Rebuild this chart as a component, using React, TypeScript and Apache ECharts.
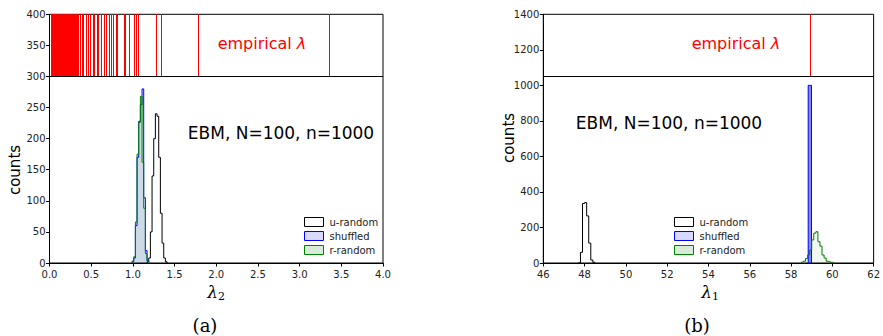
import React, { useEffect, useRef } from "react";
import * as echarts from "echarts";

// ---------- Panel (a): lambda_2 ----------
const aBinWidth = 0.02;
const aURandomEdges = [1.17, 1.19, 1.21, 1.23, 1.25, 1.27, 1.29, 1.31, 1.33, 1.35, 1.37, 1.39];
const aURandomCounts = [2, 8, 50, 140, 200, 240, 236, 170, 80, 32, 8, 2];
const aShuffledEdges = [0.99, 1.01, 1.03, 1.05, 1.07, 1.09, 1.11, 1.13, 1.15, 1.17];
const aShuffledCounts = [2, 8, 60, 170, 228, 255, 280, 105, 20, 4];
const aRRandomEdges = [0.99, 1.01, 1.03, 1.05, 1.07, 1.09, 1.11, 1.13, 1.15, 1.17];
const aRRandomCounts = [3, 10, 66, 175, 226, 268, 162, 88, 15, 3];
const aEmpirical = [
  0.02, 0.028, 0.036, 0.045, 0.052, 0.061, 0.069, 0.077, 0.086, 0.094, 0.103, 0.111,
  0.12, 0.128, 0.137, 0.145, 0.154, 0.162, 0.171, 0.179, 0.188, 0.196, 0.205, 0.213,
  0.222, 0.23, 0.239, 0.247, 0.256, 0.264, 0.273, 0.281, 0.29, 0.298, 0.307, 0.315,
  0.324, 0.333, 0.35, 0.369, 0.393, 0.41, 0.441, 0.462, 0.489, 0.522, 0.542, 0.57,
  0.59, 0.622, 0.662, 0.681, 0.714, 0.741, 0.77, 0.796, 0.814, 0.894, 0.906, 0.957,
  1.013, 1.046, 1.065, 1.286, 1.346, 1.789, 3.351,
];
const aDivider = 300;
const aXTicks = { min: 0, max: 4, interval: 0.5 };
const aYTicks = { min: 0, max: 400, interval: 50 };

// ---------- Panel (b): lambda_1 ----------
const bURandomWidth = 0.1;
const bURandomEdges = [47.7, 47.8, 47.9, 48.0, 48.1, 48.2, 48.3, 48.4];
const bURandomCounts = [3, 60, 335, 340, 265, 112, 17, 4];
const bShuffledWidth = 0.16;
const bShuffledEdges = [58.83];
const bShuffledCounts = [1000];
const bRRandomWidth = 0.1;
const bRRandomEdges = [58.5, 58.6, 58.7, 58.8, 58.9, 59.0, 59.1, 59.2, 59.3, 59.4, 59.5, 59.6, 59.7, 59.8, 59.9, 60.0];
const bRRandomCounts = [5, 10, 25, 45, 73, 130, 168, 176, 120, 95, 45, 28, 10, 8, 4, 2];
const bEmpirical = [58.91];
const bDivider = 1050;
const bXTicks = { min: 46, max: 62, interval: 2 };
const bYTicks = { min: 0, max: 1400, interval: 200 };

const seriesNames = ["u-random", "shuffled", "r-random"];

function stepPoints(edges: number[], counts: number[], width: number) {
  const pts: number[][] = [[edges[0], 0]];
  edges.forEach((e, i) => {
    pts.push([e, counts[i]]);
    pts.push([e + width, counts[i]]);
  });
  pts.push([edges[edges.length - 1] + width, 0]);
  return pts;
}

const FONT = "DejaVu Sans";

function axisCommon(fmt: (v: number) => string, margin: number) {
  return {
    type: "value" as const,
    axisLine: { show: true, onZero: false, lineStyle: { color: "#000", width: 1 } },
    axisTick: { show: true, length: 3.5, lineStyle: { color: "#000" } },
    axisLabel: {
      fontSize: 10,
      color: "#222",
      fontFamily: FONT,
      margin,
      formatter: fmt,
    },
    splitLine: { show: false },
  };
}

const intFmt = (v: number) => String(v);
const oneDecFmt = (v: number) => v.toFixed(1);

function histSeries(name: string, grid: number, data: number[][], color: string, fill: string | null) {
  return {
    name,
    type: "line",
    xAxisIndex: grid,
    yAxisIndex: grid,
    data,
    showSymbol: false,
    symbol: "none",
    lineStyle: { color, width: 1 },
    itemStyle: { color },
    ...(fill ? { areaStyle: { color: fill, opacity: 1 } } : {}),
    silent: true,
  };
}

function empiricalSeries(grid: number, values: number[], y0: number, y1: number) {
  return {
    name: "empirical" + grid,
    type: "line",
    xAxisIndex: grid,
    yAxisIndex: grid,
    data: [],
    markLine: {
      silent: true,
      symbol: ["none", "none"],
      label: { show: false },
      lineStyle: { color: "#ff0000", width: 1, type: "solid" },
      data: values.map((v) => [{ coord: [v, y0] }, { coord: [v, y1] }]),
    },
  };
}

function dividerSeries(grid: number, y: number) {
  return {
    name: "divider" + grid,
    type: "line",
    xAxisIndex: grid,
    yAxisIndex: grid,
    data: [],
    markLine: {
      silent: true,
      symbol: ["none", "none"],
      label: { show: false },
      lineStyle: { color: "#000", width: 1.2, type: "solid" },
      data: [{ yAxis: y }],
    },
  };
}

const legendItems = [
  { name: "u-random", icon: "rect", itemStyle: { color: "#fff", borderColor: "#000", borderWidth: 1 } },
  { name: "shuffled", icon: "rect", itemStyle: { color: "rgba(0,0,255,0.15)", borderColor: "#0000ff", borderWidth: 1 } },
  { name: "r-random", icon: "rect", itemStyle: { color: "rgba(0,128,0,0.15)", borderColor: "#008000", borderWidth: 1 } },
];

function legendAt(left: number, top: number) {
  return {
    orient: "vertical",
    left,
    top,
    itemWidth: 19,
    itemHeight: 9,
    itemGap: 4,
    padding: 0,
    selectedMode: false,
    data: legendItems.map((d) => ({ ...d })),
    textStyle: { fontSize: 10, color: "#222", fontFamily: FONT, lineHeight: 10, padding: [0, 0, 0, 1] },
  };
}

function lambdaLabel(x: number, sub: string) {
  return {
    type: "text",
    x,
    y: 292,
    style: {
      text: "{l|λ}{s|" + sub + "}",
      align: "center",
      verticalAlign: "middle",
      textAlign: "center",
      textVerticalAlign: "middle",
      rich: {
        l: { fontFamily: "DejaVu Serif", fontStyle: "italic", fontSize: 17, fill: "#000" },
        s: { fontFamily: "DejaVu Serif", fontSize: 11, fill: "#000", padding: [9, 0, 0, 0] },
      },
    },
  };
}

function plainText(x: number, y: number, text: string, font: string, fill = "#000", rotation = 0) {
  return {
    type: "text",
    x,
    y,
    rotation,
    style: {
      text,
      font,
      fill,
      align: "center",
      verticalAlign: "middle",
      textAlign: "center",
      textVerticalAlign: "middle",
    },
  };
}

function empiricalText(x: number) {
  return {
    type: "text",
    x,
    y: 43,
    style: {
      text: "empirical {i|λ}",
      font: "16px " + FONT,
      fill: "#ff0000",
      align: "center",
      verticalAlign: "middle",
      textAlign: "center",
      textVerticalAlign: "middle",
      rich: {
        i: { fontFamily: FONT, fontStyle: "italic", fontSize: 16, fill: "#ff0000" },
      },
    },
  };
}

export default function App() {
  const ref = useRef<HTMLDivElement>(null);
  useEffect(() => {
    if (!ref.current) return;
    const chart = echarts.init(ref.current, undefined, { renderer: "svg" });
    const option = {
      animation: false,
      textStyle: { fontFamily: FONT },
      grid: [
        { left: 49.5, top: 14.3, width: 333.5, height: 248.7, show: true, borderColor: "#000", borderWidth: 1, backgroundColor: "transparent" },
        { left: 543.3, top: 14.3, width: 333.5, height: 248.7, show: true, borderColor: "#000", borderWidth: 1, backgroundColor: "transparent" },
      ],
      xAxis: [
        { ...axisCommon(oneDecFmt, 6), gridIndex: 0, ...aXTicks },
        { ...axisCommon(intFmt, 6), gridIndex: 1, ...bXTicks },
      ],
      yAxis: [
        { ...axisCommon(intFmt, 4), gridIndex: 0, ...aYTicks },
        { ...axisCommon(intFmt, 4), gridIndex: 1, ...bYTicks },
      ],
      legend: [legendAt(304, 217), legendAt(674, 217)],
      series: [
        histSeries(seriesNames[0], 0, stepPoints(aURandomEdges, aURandomCounts, aBinWidth), "#000", null),
        histSeries(seriesNames[1], 0, stepPoints(aShuffledEdges, aShuffledCounts, aBinWidth), "#0000ff", "rgba(0,0,255,0.1)"),
        histSeries(seriesNames[2], 0, stepPoints(aRRandomEdges, aRRandomCounts, aBinWidth), "#008000", "rgba(0,128,0,0.1)"),
        empiricalSeries(0, aEmpirical, aDivider, aYTicks.max),
        dividerSeries(0, aDivider),
        histSeries(seriesNames[0], 1, stepPoints(bURandomEdges, bURandomCounts, bURandomWidth), "#000", null),
        histSeries(seriesNames[1], 1, stepPoints(bShuffledEdges, bShuffledCounts, bShuffledWidth), "#0000ff", "rgba(0,0,255,0.45)"),
        histSeries(seriesNames[2], 1, stepPoints(bRRandomEdges, bRRandomCounts, bRRandomWidth), "#008000", "rgba(0,128,0,0.06)"),
        empiricalSeries(1, bEmpirical, bDivider, bYTicks.max),
        dividerSeries(1, bDivider),
      ],
      graphic: [
        empiricalText(262),
        empiricalText(736),
        plainText(281, 133, "EBM, N=100, n=1000", "17px " + FONT),
        plainText(669, 123, "EBM, N=100, n=1000", "17px " + FONT),
        plainText(15, 170, "counts", "15px " + FONT, "#000", Math.PI / 2),
        plainText(509, 138, "counts", "15px " + FONT, "#000", Math.PI / 2),
        lambdaLabel(216, "2"),
        lambdaLabel(710, "1"),
        plainText(205, 325, "(a)", "18px 'DejaVu Serif'"),
        plainText(697, 325, "(b)", "18px 'DejaVu Serif'"),
      ],
    };
    chart.setOption(option as any);
    return () => chart.dispose();
  }, []);
  return (
    <div
      ref={ref}
      style={{ position: "fixed", left: 0, top: 0, width: 883, height: 336, background: "#fff" }}
    />
  );
}
